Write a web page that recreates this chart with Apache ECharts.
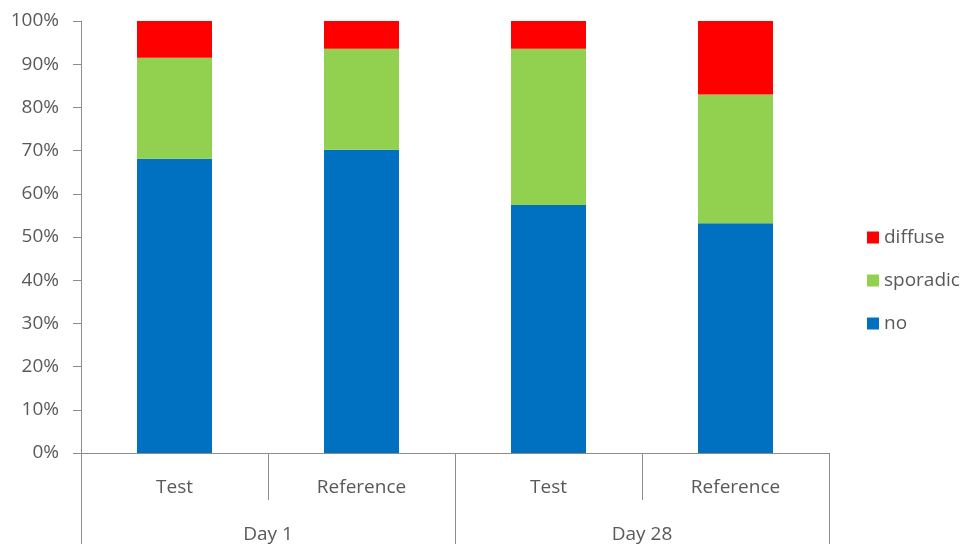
<!DOCTYPE html>
<html>
<head>
<meta charset="utf-8">
<script src="https://cdn.jsdelivr.net/npm/echarts@6/dist/echarts.min.js"></script>
<style>
  html, body { margin: 0; padding: 0; background: #ffffff; }
  #chart { width: 963px; height: 544px; }
</style>
</head>
<body>
<div id="chart"></div>
<script>
// Inner category level (group members) and outer level (time points)
const groups = ['Test', 'Reference', 'Test', 'Reference'];
const days = ['Day 1', 'Day 28'];
const yTicks = [0, 10, 20, 30, 40, 50, 60, 70, 80, 90, 100];

// Share of subjects per finding, in percent
const noValues = [68.1, 70.2, 57.4, 53.2];
const sporadicValues = [23.4, 23.4, 36.2, 29.8];
const diffuseValues = [8.5, 6.4, 6.4, 17.0];

const textColor = '#595959';
const lineColor = '#8c8c8c';
const fontFamily = '"Open Sans", "Noto Sans", sans-serif';

const chart = echarts.init(document.getElementById('chart'), null, { renderer: 'canvas' });

function barSeries(name, data, color) {
  return {
    name: name,
    type: 'bar',
    stack: 'total',
    barWidth: 75,
    data: data,
    itemStyle: { color: color },
    emphasis: { disabled: true }
  };
}

chart.setOption({
  animation: false,
  textStyle: { fontFamily: fontFamily },
  grid: { left: 81, right: 134, top: 21, bottom: 91, containLabel: false },
  legend: {
    orient: 'vertical',
    left: 862,
    top: 223,
    itemWidth: 12,
    itemHeight: 12,
    itemGap: 24,
    icon: 'rect',
    data: ['diffuse', 'sporadic', 'no'],
    textStyle: { color: textColor, fontSize: 19, fontFamily: fontFamily, padding: [0, 0, 0, 0] }
  },
  xAxis: [
    {
      type: 'category',
      data: groups,
      position: 'bottom',
      axisLine: { show: true, lineStyle: { color: lineColor, width: 1 } },
      axisTick: { show: true, interval: 0, length: 47, lineStyle: { color: lineColor } },
      axisLabel: { color: textColor, fontSize: 19, margin: 25, interval: 0 },
      splitLine: { show: false }
    },
    {
      type: 'category',
      data: days,
      position: 'bottom',
      offset: 0,
      axisLine: { show: false },
      axisTick: { show: true, interval: 0, length: 91, lineStyle: { color: lineColor } },
      axisLabel: { color: textColor, fontSize: 19, margin: 72, interval: 0 },
      splitLine: { show: false }
    }
  ],
  yAxis: {
    type: 'value',
    min: yTicks[0],
    max: yTicks[yTicks.length - 1],
    interval: 10,
    axisLine: { show: true, lineStyle: { color: lineColor, width: 1 } },
    axisTick: { show: true, length: 8, lineStyle: { color: lineColor } },
    axisLabel: { color: textColor, fontSize: 19, margin: 22, formatter: '{value}%' },
    splitLine: { show: false }
  },
  series: [
    barSeries('no', noValues, '#0070C0'),
    barSeries('sporadic', sporadicValues, '#92D050'),
    barSeries('diffuse', diffuseValues, '#FF0000')
  ]
});
</script>
</body>
</html>
